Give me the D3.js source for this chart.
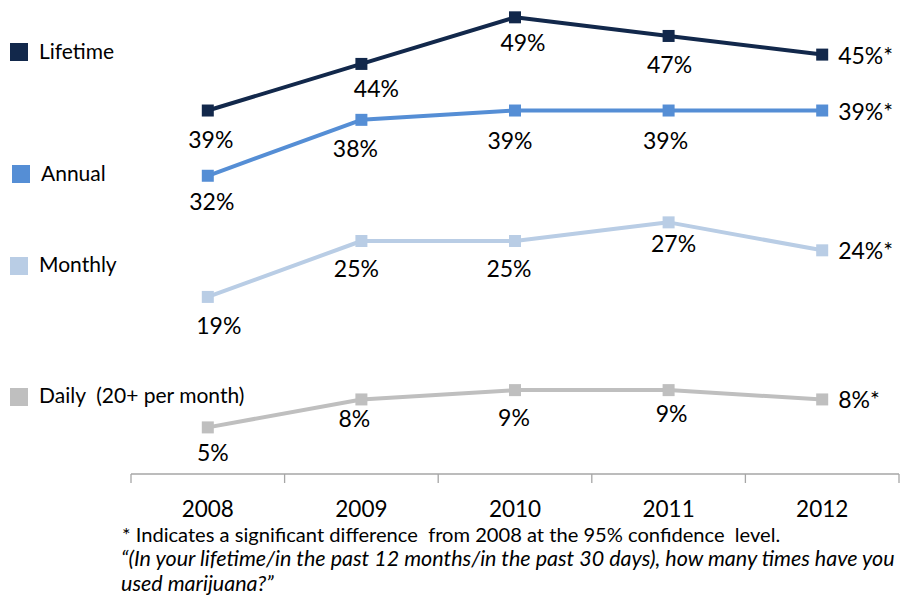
<!DOCTYPE html>
<html>
<head>
<meta charset="utf-8">
<script src="https://cdn.jsdelivr.net/npm/d3@7"></script>
<style>
  html, body { margin: 0; padding: 0; background: #ffffff; }
  svg { display: block; font-family: Lato, "Open Sans", sans-serif; }
</style>
</head>
<body>
<svg id="chart" width="901" height="599"></svg>
<script>
// Survey years (category axis)
const years = ["2008", "2009", "2010", "2011", "2012"];

// Share of respondents reporting marijuana use, percent
const lifetime = [39, 44, 49, 47, 45];
const annual   = [32, 38, 39, 39, 39];
const monthly  = [19, 25, 25, 27, 24];
const daily    = [5, 8, 9, 9, 8];

// Series names shown in the legend
const seriesNames = ["Lifetime", "Annual", "Monthly", "Daily  (20+ per month)"];

// Values marked as significantly different from the first year
const significant = [
  [false, false, false, false, true],
  [false, false, false, false, true],
  [false, false, false, false, true],
  [false, false, false, false, true]
];

const footnote = "* Indicates a significant difference  from 2008 at the 95% confidence  level.";
const question1 = "\u201C(In your lifetime/in the past 12 months/in the past 30 days), how many times have you";
const question2 = "used marijuana?\u201D";

// ---- styling / layout ----
const colors = ["#12284b", "#558ed5", "#b9cde5", "#bfbfbf"];

// label offsets (dx from point centre, dy to baseline) for points labelled below
const labelNudge = [
  [[3, 37], [15, 33], [8, 34], [1, 37]],
  [[4, 34], [-6, 37], [-5, 38], [-3, 38]],
  [[11, 37], [-5, 36], [-6, 36], [5, 30]],
  [[5, 34], [-7, 28], [-1, 36], [3, 32]]
];

// legend positions: square top-left and text origin
const legendPos = [
  { sx: 10, sy: 43, tx: 39, ty: 59 },
  { sx: 12, sy: 165, tx: 41, ty: 181 },
  { sx: 10, sy: 257, tx: 39, ty: 272 },
  { sx: 10, sy: 388, tx: 39, ty: 403 }
];

const series = [lifetime, annual, monthly, daily];

const svg = d3.select("#chart");

const x = d3.scaleBand().domain(years).range([131, 899]);
const y = d3.scaleLinear().domain([0, 50]).range([474, 8]);
const cx = d => x(d) + x.bandwidth() / 2;

// category axis: baseline with tick marks between categories
const axisY = y(0);
const axisG = svg.append("g").attr("class", "x-axis");
axisG.append("line")
  .attr("x1", x.range()[0]).attr("x2", x.range()[1])
  .attr("y1", axisY).attr("y2", axisY)
  .attr("stroke", "#a6a6a6").attr("stroke-width", 1.3);
const boundaries = years.map(d => x(d)).concat([x.range()[1]]);
axisG.selectAll("line.tick")
  .data(boundaries)
  .join("line")
  .attr("class", "tick")
  .attr("x1", d => d).attr("x2", d => d)
  .attr("y1", axisY).attr("y2", axisY + 9)
  .attr("stroke", "#a6a6a6").attr("stroke-width", 1.3);

const labelAxis = d3.axisBottom(x).tickSize(0).tickPadding(0);
const axisLabels = svg.append("g")
  .attr("transform", `translate(0,${axisY})`)
  .call(labelAxis);
axisLabels.select(".domain").remove();
axisLabels.selectAll("text")
  .attr("dy", null)
  .attr("y", 43)
  .attr("fill", "#000")
  .style("font-family", "Lato, sans-serif")
  .style("font-size", "22.5px");

// lines, markers and value labels
const lineGen = d3.line()
  .x((v, i) => cx(years[i]))
  .y(v => y(v));

series.forEach((vals, si) => {
  const g = svg.append("g").attr("class", "series");
  g.append("path")
    .datum(vals)
    .attr("d", lineGen)
    .attr("fill", "none")
    .attr("stroke", colors[si])
    .attr("stroke-width", 4)
    .attr("stroke-linejoin", "round");

  g.selectAll("rect")
    .data(vals)
    .join("rect")
    .attr("x", (v, i) => cx(years[i]) - 6)
    .attr("y", v => y(v) - 6)
    .attr("width", 12)
    .attr("height", 12)
    .attr("fill", colors[si]);

  g.selectAll("text")
    .data(vals)
    .join("text")
    .attr("x", (v, i) => i < vals.length - 1 ? cx(years[i]) + labelNudge[si][i][0] : cx(years[i]) + 16)
    .attr("y", (v, i) => i < vals.length - 1 ? y(v) + labelNudge[si][i][1] : y(v) + 9)
    .attr("text-anchor", (v, i) => i < vals.length - 1 ? "middle" : "start")
    .attr("fill", "#000")
    .style("font-size", "23px")
    .text((v, i) => v + "%" + (significant[si][i] ? "*" : ""));
});

// legend
const legend = svg.append("g").attr("class", "legend");
seriesNames.forEach((name, si) => {
  const p = legendPos[si];
  legend.append("rect")
    .attr("x", p.sx).attr("y", p.sy)
    .attr("width", 18).attr("height", 18)
    .attr("fill", colors[si]);
  legend.append("text")
    .attr("x", p.tx).attr("y", p.ty)
    .attr("fill", "#000")
    .style("font-size", "21px")
    .style("white-space", "pre")
    .text(name);
});

// footnotes, sized to their line widths
function fitText(sel, width) {
  const w = sel.node().getComputedTextLength();
  const fs = parseFloat(sel.style("font-size"));
  sel.style("font-size", (fs * width / w).toFixed(2) + "px");
}
const notes = svg.append("g").attr("class", "notes");
const n1 = notes.append("text")
  .attr("x", 122).attr("y", 542)
  .attr("fill", "#000")
  .style("font-size", "18px")
  .style("white-space", "pre")
  .text(footnote);
fitText(n1, 659);
const n2 = notes.append("text")
  .attr("x", 121).attr("y", 566)
  .attr("fill", "#000")
  .style("font-size", "18px")
  .style("font-style", "italic")
  .text(question1);
fitText(n2, 774);
const n3 = notes.append("text")
  .attr("x", 121).attr("y", 591)
  .attr("fill", "#000")
  .style("font-style", "italic")
  .style("font-size", n2.style("font-size"))
  .text(question2);
</script>
</body>
</html>
